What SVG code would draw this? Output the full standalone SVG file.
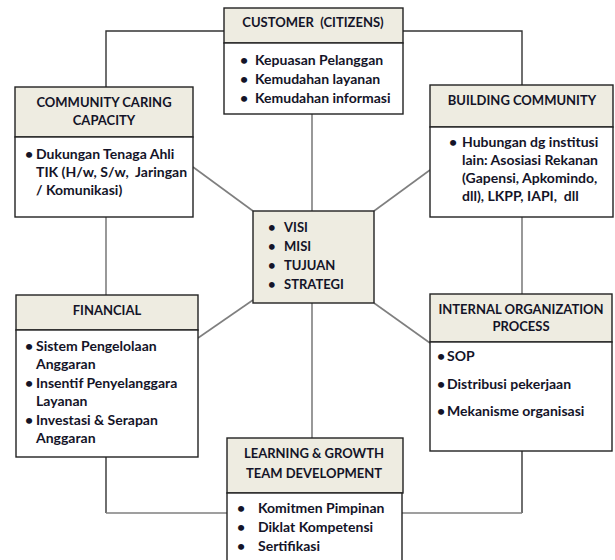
<svg xmlns="http://www.w3.org/2000/svg" width="615" height="560" viewBox="0 0 615 560">
<style>
.hd{fill:#EEECE1;stroke:#222;stroke-width:1.4}
.bd{fill:#fff;stroke:#222;stroke-width:1.4}
.c1{fill:none;stroke:#333;stroke-width:1.4}
.c2{fill:none;stroke:#7f7f7f;stroke-width:1.6}
text{font-family:Lato,"Open Sans","Liberation Sans",sans-serif;font-weight:bold;font-size:13px;fill:#141428;white-space:pre}
.b{font-size:14px}
.m{text-anchor:middle}
</style>
<rect width="615" height="560" fill="#fff"/>
<g id="connectors">
<polyline class="c1" points="106,87 106,31 224,31"/>
<polyline class="c1" points="403,31 522,31 522,85"/>
<line class="c2" x1="106" y1="217" x2="106" y2="295"/>
<line class="c2" x1="522" y1="217" x2="522" y2="294"/>
<line class="c2" x1="312" y1="114" x2="312" y2="211"/>
<line class="c2" x1="312" y1="303" x2="312" y2="438"/>
<line class="c2" x1="253" y1="211" x2="193" y2="167"/>
<line class="c2" x1="374" y1="211" x2="430" y2="170"/>
<line class="c2" x1="253" y1="300" x2="198" y2="338"/>
<line class="c2" x1="374" y1="303" x2="430" y2="343"/>
<polyline class="c1" points="106,457 106,513"/>
<line class="c2" x1="106" y1="513" x2="227" y2="513"/>
<polyline class="c1" points="522,451 522,513"/>
<line class="c2" x1="522" y1="513" x2="402" y2="513"/>
</g>
<g id="customer">
<rect class="hd" x="224" y="8" width="179" height="35"/>
<rect class="bd" x="224" y="43" width="179" height="71"/>
<text class="m" x="313" y="27" xml:space="preserve">CUSTOMER  (CITIZENS)</text>
<text class="b" x="240" y="65">•</text><text class="b" x="255" y="65">Kepuasan Pelanggan</text>
<text class="b" x="240" y="84">•</text><text class="b" x="255" y="84">Kemudahan layanan</text>
<text class="b" x="240" y="103">•</text><text class="b" x="255" y="103">Kemudahan informasi</text>
</g>
<g id="community-caring">
<rect class="hd" x="15" y="87" width="178" height="50"/>
<rect class="bd" x="15" y="137" width="178" height="80"/>
<text class="m" x="104" y="107">COMMUNITY CARING</text>
<text class="m" x="104" y="125">CAPACITY</text>
<text class="b" x="25" y="159">•</text><text class="b" x="36" y="159">Dukungan Tenaga Ahli</text>
<text class="b" x="36" y="177" xml:space="preserve">TIK (H/w, S/w,  Jaringan</text>
<text class="b" x="36" y="195">/ Komunikasi)</text>
</g>
<g id="building-community">
<rect class="hd" x="430" y="85" width="183" height="42"/>
<rect class="bd" x="430" y="127" width="183" height="90"/>
<text class="m" x="522" y="105">BUILDING COMMUNITY</text>
<text class="b" x="449" y="147">•</text><text class="b" x="462" y="147">Hubungan dg institusi</text>
<text class="b" x="462" y="165">lain: Asosiasi Rekanan</text>
<text class="b" x="462" y="183">(Gapensi, Apkomindo,</text>
<text class="b" x="462" y="201" xml:space="preserve">dll), LKPP, IAPI,  dll</text>
</g>
<g id="center">
<rect class="hd" x="253" y="211" width="121" height="92"/>
<text x="268" y="232">•</text><text x="284" y="232">VISI</text>
<text x="268" y="251">•</text><text x="284" y="251">MISI</text>
<text x="268" y="270">•</text><text x="284" y="270">TUJUAN</text>
<text x="268" y="289">•</text><text x="284" y="289">STRATEGI</text>
</g>
<g id="financial">
<rect class="hd" x="16" y="295" width="182" height="35"/>
<rect class="bd" x="16" y="330" width="182" height="127"/>
<text class="m" x="107" y="315">FINANCIAL</text>
<text class="b" x="25" y="351">•</text><text class="b" x="36" y="351">Sistem Pengelolaan</text>
<text class="b" x="36" y="369">Anggaran</text>
<text class="b" x="25" y="388">•</text><text class="b" x="36" y="388">Insentif Penyelanggara</text>
<text class="b" x="36" y="406">Layanan</text>
<text class="b" x="25" y="425">•</text><text class="b" x="36" y="425">Investasi &amp; Serapan</text>
<text class="b" x="36" y="443">Anggaran</text>
</g>
<g id="internal-process">
<rect class="hd" x="430" y="294" width="182" height="48"/>
<rect class="bd" x="430" y="342" width="182" height="109"/>
<text class="m" x="521" y="314">INTERNAL ORGANIZATION</text>
<text class="m" x="521" y="331">PROCESS</text>
<text class="b" x="437" y="361">•</text><text class="b" x="447" y="361">SOP</text>
<text class="b" x="437" y="389">•</text><text class="b" x="447" y="389">Distribusi pekerjaan</text>
<text class="b" x="437" y="416">•</text><text class="b" x="447" y="416">Mekanisme organisasi</text>
</g>
<g id="learning-growth">
<rect class="hd" x="227" y="438" width="176" height="55"/>
<rect class="bd" x="227" y="493" width="175" height="70"/>
<text class="m" x="314" y="458">LEARNING &amp; GROWTH</text>
<text class="m" x="314" y="478">TEAM DEVELOPMENT</text>
<text class="b" x="237" y="513">•</text><text class="b" x="258" y="513">Komitmen Pimpinan</text>
<text class="b" x="237" y="532">•</text><text class="b" x="258" y="532">Diklat Kompetensi</text>
<text class="b" x="237" y="551">•</text><text class="b" x="258" y="551">Sertifikasi</text>
</g>
</svg>
